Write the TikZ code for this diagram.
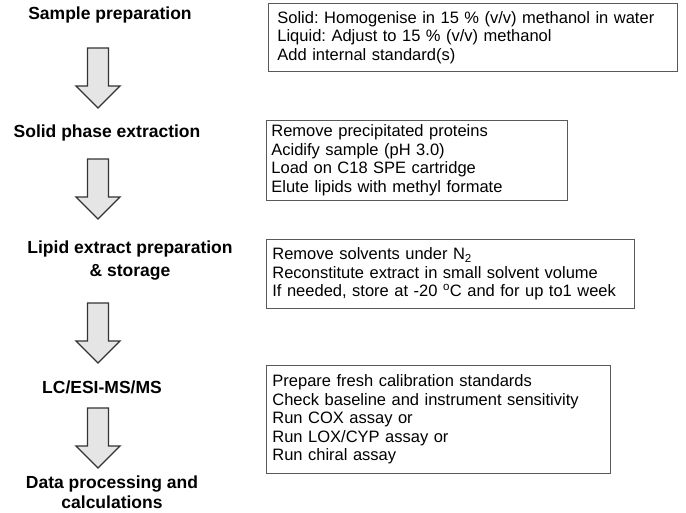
\documentclass[tikz,border=0pt]{standalone}
\usepackage{fontspec}
\setmainfont{Liberation Sans}
\frenchspacing
\begin{document}
\begin{tikzpicture}[x=1pt,y=-1pt,
  stage/.style={font=\fontsize{17.5}{23}\selectfont\bfseries, align=center, inner sep=0pt, text=black},
  infobox/.style={draw=black!65, line width=0.8pt, fill=white, anchor=north west, align=left,
    font=\fontsize{16.5}{18.5}\selectfont, inner ysep=0pt, text=black},
  arrowstyle/.style={draw=black!80, line width=1.3pt, fill=black!10, line join=miter},
  pics/blockarrow/.style={code={
    \draw[arrowstyle] (-10.5,0) -- (10.5,0) -- (10.5,38) -- (22,38) -- (0,60)
      -- (-22,38) -- (-10.5,38) -- cycle;}}
]
\useasboundingbox (0,0) rectangle (686,512);

% stage labels
\node[stage] (s1) at (110,15) {Sample preparation};
\node[stage] (s2) at (107,133) {Solid phase extraction};
\node[stage] (s3) at (130,260.5) {Lipid extract preparation\\\& storage};
\node[stage] (s4) at (102,387) {LC/ESI-MS/MS};
\node[stage, font=\fontsize{17.5}{20}\selectfont\bfseries] (s5) at (112,492) {Data processing and\\calculations};

% block arrows
\coordinate (a1) at (98,48);
\coordinate (a2) at (98,159);
\coordinate (a3) at (98,303);
\coordinate (a4) at (98,408);
\pic at (a1) {blockarrow};
\pic at (a2) {blockarrow};
\pic at (a3) {blockarrow};
\pic at (a4) {blockarrow};

% info boxes
\node[infobox, inner xsep=9pt, text width=391pt, minimum height=68pt] (b1) at (268,3)
  {Solid: Homogenise in 15 \% (v/v) methanol in water\\
   Liquid: Adjust to 15 \% (v/v) methanol\\
   Add internal standard(s)};
\node[infobox, inner xsep=5pt, text width=291pt, minimum height=80pt] (b2) at (266,120)
  {Remove precipitated proteins\\
   Acidify sample (pH 3.0)\\
   Load on C18 SPE cartridge\\
   Elute lipids with methyl formate};
\node[infobox, inner xsep=6pt, text width=356pt, minimum height=69pt] (b3) at (266,239)
  {Remove solvents under N\textsubscript{2}\\
   Reconstitute extract in small solvent volume\\
   If needed, store at -20 \textsuperscript{o}C and for up to1 week};
\node[infobox, inner xsep=6pt, text width=332pt, minimum height=108pt] (b4) at (266,365)
  {Prepare fresh calibration standards\\
   Check baseline and instrument sensitivity\\
   Run COX assay or\\
   Run LOX/CYP assay or\\
   Run chiral assay};
\end{tikzpicture}
\end{document}
